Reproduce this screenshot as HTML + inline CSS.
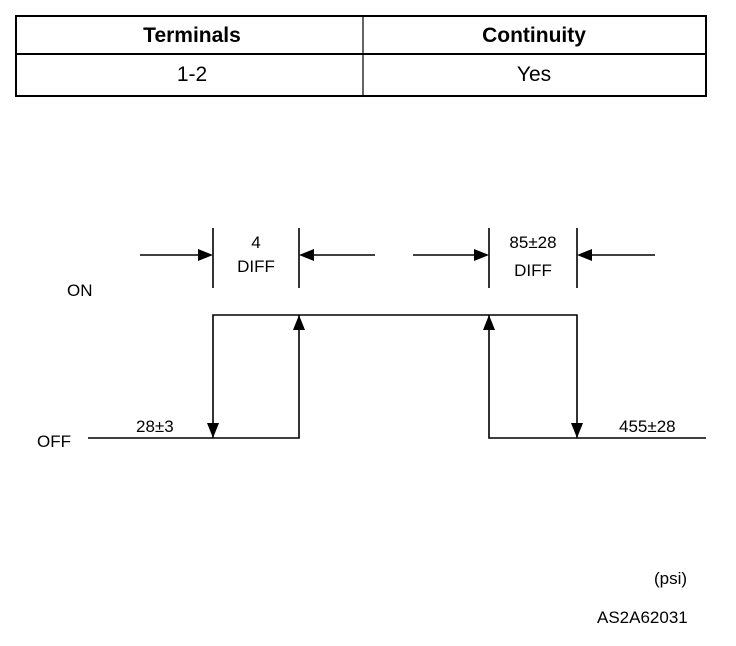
<!DOCTYPE html>
<html><head><meta charset="utf-8"><style>
html,body{margin:0;padding:0;background:#fff;width:736px;height:646px;overflow:hidden}
svg text{font-family:"Liberation Sans",Arial,sans-serif;fill:#000}
</style></head><body>
<svg width="736" height="646" viewBox="0 0 736 646" xmlns="http://www.w3.org/2000/svg">
<g stroke="#000" stroke-width="2" fill="none">
<rect x="16" y="16" width="690" height="80"/>
<line x1="16" y1="54" x2="706" y2="54"/>
<line x1="363" y1="16" x2="363" y2="96" stroke-width="1.2"/>
</g>
<text x="192" y="42" font-size="21" font-weight="bold" text-anchor="middle">Terminals</text>
<text x="534" y="42" font-size="21" font-weight="bold" text-anchor="middle">Continuity</text>
<text x="192" y="81" font-size="21" text-anchor="middle">1-2</text>
<text x="534" y="81" font-size="21" text-anchor="middle">Yes</text>

<g stroke="#000" stroke-width="1.6" fill="none">
<line x1="213" y1="228" x2="213" y2="288"/>
<line x1="299" y1="228" x2="299" y2="288"/>
<line x1="489" y1="228" x2="489" y2="288"/>
<line x1="577" y1="228" x2="577" y2="288"/>
<line x1="140" y1="255" x2="200" y2="255"/>
<line x1="312" y1="255" x2="375" y2="255"/>
<line x1="413" y1="255" x2="476" y2="255"/>
<line x1="590" y1="255" x2="655" y2="255"/>
<polyline points="88,438 299,438 299,315"/>
<polyline points="213,438 213,315 577,315 577,438"/>
<polyline points="489,315 489,438 706,438"/>
</g>
<g fill="#000">
<polygon points="213,255 198,249 198,261"/>
<polygon points="299,255 314,249 314,261"/>
<polygon points="489,255 474,249 474,261"/>
<polygon points="577,255 592,249 592,261"/>
<polygon points="213,438 207,423 219,423"/>
<polygon points="577,438 571,423 583,423"/>
<polygon points="299,315 293,330 305,330"/>
<polygon points="489,315 483,330 495,330"/>
</g>
<g font-size="17">
<text x="256" y="248" text-anchor="middle">4</text>
<text x="256" y="272" text-anchor="middle">DIFF</text>
<text x="533" y="248" text-anchor="middle">85±28</text>
<text x="533" y="276" text-anchor="middle">DIFF</text>
<text x="67" y="296">ON</text>
<text x="37" y="447">OFF</text>
<text x="136" y="432">28±3</text>
<text x="619" y="432">455±28</text>
<text x="654" y="584">(psi)</text>
<text x="597" y="623">AS2A62031</text>
</g>
</svg>
</body></html>
